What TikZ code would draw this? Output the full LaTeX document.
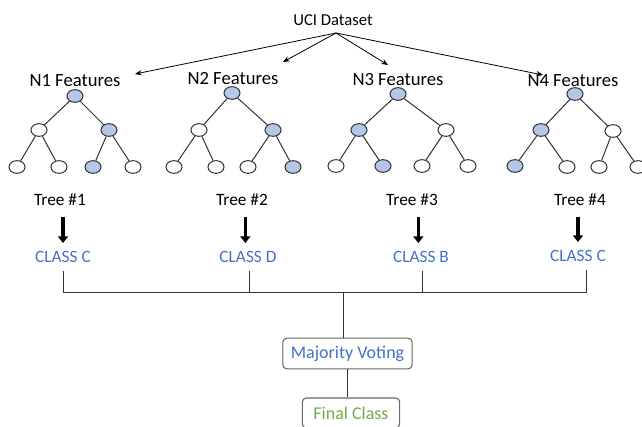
\documentclass[tikz,border=0pt]{standalone}
\usepackage{fontspec}
\setmainfont{Carlito}
\usepackage{tikz}
\usetikzlibrary{arrows.meta, shapes.geometric, positioning}
\definecolor{leafblue}{HTML}{B4C7E7}
\definecolor{classblue}{HTML}{4472C4}
\definecolor{finalgreen}{HTML}{70AD47}
\tikzset{
  tnode/.style = {draw=black!80, ellipse, minimum width=12pt, minimum height=9.5pt, inner sep=0pt, line width=0.75pt},
  bnode/.style = {tnode, fill=leafblue},
  wnode/.style = {tnode, fill=white},
  edge/.style = {draw=black!80, line width=0.75pt},
  thinarrow/.style = {-{Stealth[length=5pt,width=4pt]}, line width=0.6pt},
  bigarrow/.style = {-{Triangle[length=5pt,width=7.5pt]}, line width=2.3pt}
}

\begin{document}
\begin{tikzpicture}[x=0.75pt, y=-0.75pt]
  \tikzset{
    lbl/.style={inner sep=0pt, font=\fontsize{14}{16}\selectfont},
    treelbl/.style={inner sep=0pt, font=\fontsize{13}{15}\selectfont},
    classlbl/.style={inner sep=0pt, text=classblue, font=\fontsize{13}{15}\selectfont},
    box/.style={draw=black!60, fill=white, rounded corners=3pt, line width=0.8pt, inner sep=0pt}
  }
  \useasboundingbox (0,0) rectangle (642,427);
  \clip (0,0) rectangle (642,427);

  % source
  \node[inner sep=0pt, font=\fontsize{12.5}{15}\selectfont] (uci) at (333,20) {UCI Dataset};
  \coordinate (src) at (336,33);

  % feature subsets
  \node[lbl] (f1) at (75,81)  {N1 Features};
  \node[lbl] (f2) at (233,79) {N2 Features};
  \node[lbl] (f3) at (398,80) {N3 Features};
  \node[lbl] (f4) at (573,81) {N4 Features};

  \coordinate (tip1) at (135,74);
  \coordinate (tip2) at (283,62);
  \coordinate (tip3) at (388,65);
  \coordinate (tip4) at (543,75);
  \foreach \i in {1,...,4}
    \draw[thinarrow] (src) -- (tip\i);

  % tree 1
  \node[bnode] (n1root) at (75,96)  {};
  \node[wnode] (n1L)    at (39,130) {};
  \node[bnode] (n1R)    at (109,130) {};
  \node[wnode] (n1LL)   at (17,167) {};
  \node[wnode] (n1LR)   at (59,167) {};
  \node[bnode] (n1RL)   at (93,167) {};
  \node[wnode] (n1RR)   at (133,167) {};

  % tree 2
  \node[bnode] (n2root) at (232,93)  {};
  \node[wnode] (n2L)    at (199,130) {};
  \node[bnode] (n2R)    at (273,130) {};
  \node[wnode] (n2LL)   at (174,167) {};
  \node[wnode] (n2LR)   at (216,167) {};
  \node[wnode] (n2RL)   at (248,167) {};
  \node[bnode] (n2RR)   at (293,167) {};

  % tree 3
  \node[bnode] (n3root) at (398,94)  {};
  \node[bnode] (n3L)    at (359,130) {};
  \node[wnode] (n3R)    at (446,130) {};
  \node[wnode] (n3LL)   at (336,166) {};
  \node[bnode] (n3LR)   at (383,166) {};
  \node[wnode] (n3RL)   at (422,166) {};
  \node[wnode] (n3RR)   at (468,166) {};

  % tree 4
  \node[bnode] (n4root) at (575,94)  {};
  \node[bnode] (n4L)    at (541,130) {};
  \node[wnode] (n4R)    at (613,131) {};
  \node[bnode] (n4LL)   at (515,166) {};
  \node[wnode] (n4LR)   at (567,167) {};
  \node[wnode] (n4RL)   at (599,167) {};
  \node[wnode] (n4RR)   at (638,167) {};

  \foreach \t in {1,...,4}{
    \draw[edge] (n\t root) -- (n\t L);
    \draw[edge] (n\t root) -- (n\t R);
    \draw[edge] (n\t L) -- (n\t LL);
    \draw[edge] (n\t L) -- (n\t LR);
    \draw[edge] (n\t R) -- (n\t RL);
    \draw[edge] (n\t R) -- (n\t RR);
  }

  % tree outputs
  \node[treelbl] (t1) at (60,200)  {Tree \#1};
  \node[treelbl] (t2) at (242,200) {Tree \#2};
  \node[treelbl] (t3) at (412,200) {Tree \#3};
  \node[treelbl] (t4) at (580,200) {Tree \#4};

  \node[classlbl] (c1) at (63,257)  {CLASS C};
  \node[classlbl] (c2) at (248,257) {CLASS D};
  \node[classlbl] (c3) at (421,257) {CLASS B};
  \node[classlbl] (c4) at (578,256) {CLASS C};

  \draw[bigarrow, shorten <=8pt, shorten >=6pt] (c1.north |- t1.south) -- (c1.north);
  \draw[bigarrow, shorten <=8pt, shorten >=6pt] ([xshift=-2pt]c2.north |- t2.south) -- ([xshift=-2pt]c2.north);
  \draw[bigarrow, shorten <=8pt, shorten >=6pt] ([xshift=-2pt]c3.north |- t3.south) -- ([xshift=-2pt]c3.north);
  \draw[bigarrow, shorten <=8pt, shorten >=6pt] (c4.north |- t4.south) -- (c4.north);

  % voting bus
  \coordinate (busL) at (64,293);
  \coordinate (busR) at (586,293);
  \coordinate (busM) at (343,293);
  \draw[edge] (busL) -- (busR);
  \draw[edge, shorten <=6pt] (c1.south) -- (c1.south |- busL);
  \draw[edge, shorten <=6pt] ([xshift=1pt]c2.south) -- ([xshift=1pt]c2.south |- busL);
  \draw[edge, shorten <=6pt] ([xshift=1pt]c3.south) -- ([xshift=1pt]c3.south |- busL);
  \draw[edge, shorten <=6pt] ([xshift=6pt]c4.south) -- ([xshift=6pt]c4.south |- busL);

  \node[box, minimum width=97pt, minimum height=23pt, text=classblue,
        font=\fontsize{13.5}{15}\selectfont] (mv) at (347.5,353.5) {Majority Voting};
  \node[box, minimum width=73pt, minimum height=22.5pt, text=finalgreen,
        font=\fontsize{13.5}{15}\selectfont] (fc) at (351,413) {Final Class};

  \draw[edge] (busM) -- (busM |- mv.north);
  \draw[edge] (mv.south) -- (mv.south |- fc.north);
\end{tikzpicture}
\end{document}
